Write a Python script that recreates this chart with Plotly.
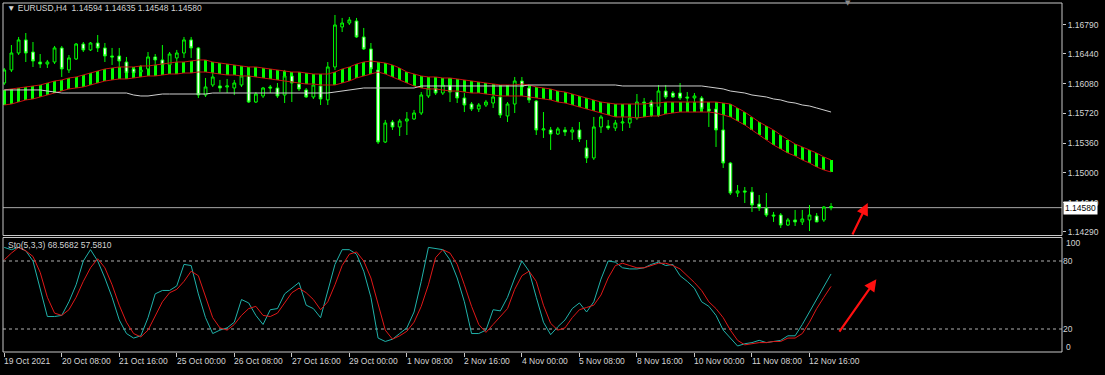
import plotly.graph_objects as go

# ---------------- data (EURUSD H4) ----------------
open_ = [1.16088, 1.16246, 1.16451, 1.16609, 1.16463, 1.16342, 1.16318, 1.16342, 1.16512, 1.16246,
 1.16379, 1.16560, 1.16488, 1.16572, 1.16512, 1.16415, 1.16415, 1.16342, 1.16258, 1.16221,
 1.16258, 1.16403, 1.16367, 1.16306, 1.16391, 1.16451, 1.16609, 1.16512, 1.15943, 1.16064,
 1.16052, 1.16040, 1.16028, 1.16064, 1.16173, 1.15858, 1.15931, 1.16040, 1.16028, 1.15943,
 1.16173, 1.16076, 1.16004, 1.15919, 1.16052, 1.15883, 1.16282, 1.16766, 1.16814, 1.16838,
 1.16645, 1.16500, 1.16246, 1.15374, 1.15616, 1.15556, 1.15628, 1.15653, 1.15725, 1.15931,
 1.16028, 1.15967, 1.16064, 1.15979, 1.15907, 1.15834, 1.15774, 1.15822, 1.15846, 1.15919,
 1.15689, 1.15834, 1.16112, 1.16028, 1.15870, 1.15520, 1.15520, 1.15471, 1.15520, 1.15495,
 1.15520, 1.15302, 1.15181, 1.15556, 1.15568, 1.15544, 1.15604, 1.15604, 1.15665, 1.15858,
 1.15858, 1.15798, 1.15991, 1.15967, 1.15967, 1.15919, 1.15907, 1.15907, 1.15774, 1.15774,
 1.15520, 1.15120, 1.14757, 1.14782, 1.14769, 1.14624, 1.14576, 1.14491, 1.14491, 1.14370,
 1.14431, 1.14407, 1.14431, 1.14479, 1.14431, 1.14594]

high_ = [1.16270, 1.16548, 1.16645, 1.16693, 1.16584, 1.16439, 1.16367, 1.16536, 1.16536, 1.16427,
 1.16572, 1.16584, 1.16584, 1.16669, 1.16572, 1.16512, 1.16512, 1.16403, 1.16282, 1.16306,
 1.16463, 1.16439, 1.16548, 1.16463, 1.16488, 1.16645, 1.16645, 1.16524, 1.16149, 1.16209,
 1.16125, 1.16137, 1.16125, 1.16209, 1.16185, 1.15979, 1.16040, 1.16064, 1.16088, 1.16246,
 1.16221, 1.16100, 1.16028, 1.16100, 1.16088, 1.16342, 1.16911, 1.16875, 1.16887, 1.16875,
 1.16754, 1.16572, 1.16270, 1.15641, 1.15641, 1.15653, 1.15737, 1.15762, 1.15979, 1.16064,
 1.16064, 1.16125, 1.16100, 1.16004, 1.15967, 1.15858, 1.15846, 1.15883, 1.15967, 1.15955,
 1.15858, 1.16161, 1.16161, 1.16064, 1.15883, 1.15737, 1.15556, 1.15556, 1.15556, 1.15556,
 1.15616, 1.15399, 1.15677, 1.15701, 1.15641, 1.15641, 1.15737, 1.15822, 1.15955, 1.15907,
 1.15883, 1.16064, 1.16064, 1.15991, 1.16088, 1.15979, 1.15967, 1.15931, 1.15846, 1.15846,
 1.15701, 1.15133, 1.14854, 1.14830, 1.14830, 1.14733, 1.14757, 1.14528, 1.14515, 1.14455,
 1.14552, 1.14552, 1.14612, 1.14515, 1.14600, 1.14635]

low_ = [1.16064, 1.16221, 1.16427, 1.16342, 1.16282, 1.16270, 1.16270, 1.16318, 1.16161, 1.16209,
 1.16367, 1.16463, 1.16475, 1.16463, 1.16342, 1.16306, 1.16282, 1.16161, 1.16173, 1.16185,
 1.16221, 1.16294, 1.16270, 1.16282, 1.16342, 1.16391, 1.16391, 1.15907, 1.15919, 1.16040,
 1.15979, 1.15967, 1.15943, 1.16040, 1.15846, 1.15846, 1.15907, 1.15967, 1.15907, 1.15846,
 1.15858, 1.15991, 1.15907, 1.15895, 1.15822, 1.15822, 1.16246, 1.16705, 1.16790, 1.16633,
 1.16488, 1.16246, 1.15350, 1.15362, 1.15520, 1.15447, 1.15459, 1.15641, 1.15701, 1.15907,
 1.15943, 1.15943, 1.15858, 1.15846, 1.15737, 1.15749, 1.15737, 1.15798, 1.15786, 1.15665,
 1.15616, 1.15725, 1.15979, 1.15846, 1.15459, 1.15423, 1.15278, 1.15459, 1.15447, 1.15399,
 1.15374, 1.15120, 1.15157, 1.15483, 1.15520, 1.15507, 1.15507, 1.15544, 1.15641, 1.15822,
 1.15677, 1.15677, 1.15895, 1.15907, 1.15883, 1.15858, 1.15858, 1.15737, 1.15556, 1.15314,
 1.15060, 1.14733, 1.14709, 1.14636, 1.14528, 1.14540, 1.14467, 1.14407, 1.14334, 1.14358,
 1.14358, 1.14370, 1.14297, 1.14407, 1.14407, 1.14548]

close_ = [1.16246, 1.16451, 1.16609, 1.16451, 1.16354, 1.16318, 1.16342, 1.16512, 1.16258, 1.16391,
 1.16560, 1.16488, 1.16572, 1.16512, 1.16415, 1.16403, 1.16354, 1.16209, 1.16209, 1.16246,
 1.16403, 1.16367, 1.16306, 1.16439, 1.16451, 1.16609, 1.16512, 1.15943, 1.16040, 1.16161,
 1.16028, 1.16052, 1.16088, 1.16173, 1.15858, 1.15955, 1.16028, 1.16028, 1.15931, 1.16173,
 1.16088, 1.16016, 1.15919, 1.16064, 1.15895, 1.16282, 1.16790, 1.16814, 1.16851, 1.16645,
 1.16500, 1.16258, 1.15374, 1.15604, 1.15556, 1.15628, 1.15653, 1.15725, 1.15943, 1.16028,
 1.15967, 1.16064, 1.15979, 1.15907, 1.15822, 1.15774, 1.15822, 1.15858, 1.15919, 1.15701,
 1.15834, 1.16112, 1.16040, 1.15883, 1.15520, 1.15532, 1.15471, 1.15532, 1.15495, 1.15520,
 1.15411, 1.15181, 1.15556, 1.15677, 1.15544, 1.15604, 1.15616, 1.15665, 1.15858, 1.15846,
 1.15798, 1.15991, 1.15919, 1.15919, 1.15907, 1.15907, 1.15931, 1.15774, 1.15749, 1.15520,
 1.15120, 1.14757, 1.14782, 1.14769, 1.14612, 1.14576, 1.14491, 1.14479, 1.14370, 1.14431,
 1.14407, 1.14443, 1.14491, 1.14407, 1.14588, 1.14580]

# moving-average channel (upper / lower) and slow moving average
ma_up = [1.16004, 1.16016, 1.16028, 1.16040, 1.16052, 1.16064, 1.16088, 1.16112, 1.16125, 1.16149,
 1.16161, 1.16185, 1.16209, 1.16233, 1.16258, 1.16270, 1.16282, 1.16282, 1.16282, 1.16294,
 1.16294, 1.16306, 1.16318, 1.16330, 1.16342, 1.16342, 1.16354, 1.16367, 1.16367, 1.16342,
 1.16330, 1.16318, 1.16306, 1.16294, 1.16282, 1.16282, 1.16270, 1.16258, 1.16246, 1.16233,
 1.16221, 1.16221, 1.16209, 1.16197, 1.16197, 1.16197, 1.16221, 1.16258, 1.16282, 1.16318,
 1.16342, 1.16354, 1.16342, 1.16330, 1.16306, 1.16270, 1.16221, 1.16197, 1.16173, 1.16161,
 1.16161, 1.16149, 1.16149, 1.16137, 1.16125, 1.16112, 1.16100, 1.16088, 1.16076, 1.16064,
 1.16064, 1.16064, 1.16076, 1.16064, 1.16040, 1.16028, 1.16016, 1.15991, 1.15979, 1.15955,
 1.15931, 1.15907, 1.15883, 1.15858, 1.15846, 1.15834, 1.15834, 1.15834, 1.15834, 1.15834,
 1.15846, 1.15846, 1.15858, 1.15858, 1.15858, 1.15858, 1.15858, 1.15858, 1.15858, 1.15858,
 1.15846, 1.15834, 1.15786, 1.15737, 1.15677, 1.15616, 1.15568, 1.15520, 1.15459, 1.15399,
 1.15350, 1.15314, 1.15278, 1.15241, 1.15193, 1.15157]

ma_lo = [1.15822, 1.15834, 1.15858, 1.15883, 1.15895, 1.15919, 1.15943, 1.15967, 1.15991, 1.16016,
 1.16028, 1.16040, 1.16064, 1.16088, 1.16112, 1.16125, 1.16137, 1.16137, 1.16149, 1.16161,
 1.16173, 1.16173, 1.16185, 1.16197, 1.16197, 1.16209, 1.16209, 1.16221, 1.16221, 1.16209,
 1.16197, 1.16185, 1.16185, 1.16173, 1.16173, 1.16161, 1.16149, 1.16137, 1.16125, 1.16112,
 1.16100, 1.16088, 1.16076, 1.16076, 1.16064, 1.16064, 1.16064, 1.16088, 1.16112, 1.16149,
 1.16173, 1.16197, 1.16221, 1.16197, 1.16161, 1.16125, 1.16088, 1.16052, 1.16028, 1.16016,
 1.16016, 1.16004, 1.15991, 1.15991, 1.15979, 1.15967, 1.15967, 1.15955, 1.15943, 1.15931,
 1.15931, 1.15931, 1.15931, 1.15919, 1.15907, 1.15895, 1.15883, 1.15858, 1.15846, 1.15822,
 1.15798, 1.15774, 1.15749, 1.15725, 1.15701, 1.15677, 1.15677, 1.15677, 1.15665, 1.15677,
 1.15689, 1.15689, 1.15713, 1.15725, 1.15737, 1.15737, 1.15737, 1.15737, 1.15737, 1.15725,
 1.15701, 1.15677, 1.15628, 1.15580, 1.15520, 1.15459, 1.15399, 1.15338, 1.15290, 1.15241,
 1.15205, 1.15157, 1.15120, 1.15072, 1.15036, 1.15011]

ma_slow = [1.16004, 1.16004, 1.16004, 1.16004, 1.16004, 1.16004, 1.15991, 1.15979, 1.15967, 1.15967,
 1.15967, 1.15967, 1.15967, 1.15967, 1.15967, 1.15967, 1.15967, 1.15967, 1.15943, 1.15931,
 1.15931, 1.15943, 1.15955, 1.15955, 1.15955, 1.15955, 1.15955, 1.15955, 1.15955, 1.15967,
 1.15967, 1.15967, 1.15967, 1.15967, 1.15967, 1.15967, 1.15967, 1.15967, 1.15967, 1.15967,
 1.15967, 1.15967, 1.15967, 1.15967, 1.15967, 1.15967, 1.15979, 1.15991, 1.16004, 1.16016,
 1.16028, 1.16028, 1.16028, 1.16028, 1.16028, 1.16028, 1.16028, 1.16028, 1.16052, 1.16052,
 1.16052, 1.16052, 1.16052, 1.16052, 1.16052, 1.16052, 1.16052, 1.16052, 1.16052, 1.16052,
 1.16052, 1.16052, 1.16052, 1.16064, 1.16064, 1.16064, 1.16064, 1.16064, 1.16064, 1.16064,
 1.16064, 1.16064, 1.16064, 1.16064, 1.16064, 1.16064, 1.16052, 1.16052, 1.16052, 1.16052,
 1.16052, 1.16052, 1.16052, 1.16052, 1.16052, 1.16052, 1.16052, 1.16052, 1.16040, 1.16028,
 1.16016, 1.15991, 1.15979, 1.15967, 1.15943, 1.15931, 1.15919, 1.15895, 1.15883, 1.15858,
 1.15846, 1.15822, 1.15810, 1.15786, 1.15762, 1.15737]

# Stochastic(5,3,3)
stoch_k = [92, 90, 92, 89, 80, 56, 31, 31, 32, 44,
 59, 80, 90, 80, 65, 48, 28, 16, 12, 14,
 30, 51, 54, 54, 58, 77, 76, 51, 30, 16,
 19, 21, 26, 46, 43, 32, 24, 37, 38, 51,
 56, 61, 41, 38, 30, 54, 77, 90, 90, 86,
 71, 48, 12, 9, 11, 16, 21, 35, 62, 92,
 91, 90, 81, 65, 44, 16, 16, 19, 37, 36,
 48, 65, 80, 71, 48, 26, 15, 22, 28, 38,
 43, 35, 44, 64, 80, 79, 74, 73, 73, 74,
 77, 79, 76, 77, 67, 62, 56, 44, 40, 32,
 19, 12, 5, 7, 8, 10, 8, 9, 10, 14,
 14, 24, 35, 46, 58, 68.5682]

stoch_d = [81, 87, 92, 89, 84, 70, 48, 34, 32, 37,
 48, 62, 74, 82, 74, 59, 41, 26, 16, 13,
 19, 32, 44, 52, 55, 62, 71, 67, 48, 30,
 21, 19, 24, 32, 38, 40, 32, 31, 34, 43,
 52, 56, 52, 46, 37, 44, 59, 76, 86, 88,
 80, 65, 41, 19, 11, 14, 18, 26, 40, 59,
 83, 90, 87, 77, 59, 40, 24, 17, 24, 31,
 38, 55, 67, 71, 62, 41, 25, 19, 21, 30,
 37, 39, 41, 50, 65, 76, 78, 76, 74, 74,
 76, 78, 78, 76, 73, 67, 61, 54, 44, 38,
 30, 19, 10, 6, 7, 8, 8, 9, 9, 12,
 12, 16, 26, 38, 48, 57.5810]

time_labels = ["19 Oct 2021", "20 Oct 08:00", "21 Oct 16:00", "25 Oct 00:00", "26 Oct 08:00",
               "27 Oct 16:00", "29 Oct 00:00", "1 Nov 08:00", "2 Nov 16:00", "4 Nov 00:00",
               "5 Nov 08:00", "8 Nov 16:00", "10 Nov 00:00", "11 Nov 08:00", "12 Nov 16:00"]
label_step = 8  # one label every 8 H4 bars
price_ticks = [1.16790, 1.16440, 1.16080, 1.15720, 1.15360, 1.15000, 1.14640, 1.14290]
stoch_ticks = [80, 20]
bid_price = 1.14580
title_text = "▼ EURUSD,H4  1.14594 1.14635 1.14548 1.14580"
stoch_text = "Sto(5,3,3) 68.5682 57.5810"

# ---------------- layout geometry ----------------
W, H = 1105, 375
ML, MR, MT, MB = 3, 43, 3, 23
PW, PH = W - ML - MR, H - MT - MB
MAIN_DOM = [0.3338, 1.0]
STO_DOM = [0.0, 0.3281]
X_RANGE = [-0.17, 147.12]
Y_RANGE = [1.14243, 1.17056]
S_RANGE = [-0.29, 100.74]

def pxx(px):
    return (px - ML) / PW

def pxy(py):
    return (H - MB - py) / PH

FONT = "Liberation Sans, Arial, sans-serif"
TXT = "#d4d4d4"
LIME = "#00ff00"

n = len(close_)
idx = list(range(n))

fig = go.Figure()

# channel histogram between the two channel MAs
fig.add_trace(go.Bar(
    x=idx, y=[u - l for u, l in zip(ma_up, ma_lo)], base=ma_lo,
    width=0.42, marker=dict(color=LIME, line=dict(width=0)),
    xaxis="x", yaxis="y", hoverinfo="skip"))

fig.add_trace(go.Candlestick(
    x=idx, open=open_, high=high_, low=low_, close=close_,
    increasing=dict(line=dict(color=LIME, width=1), fillcolor="#000000"),
    decreasing=dict(line=dict(color=LIME, width=1), fillcolor="#f4fff4"),
    whiskerwidth=0, xaxis="x", yaxis="y", hoverinfo="skip"))

for series in (ma_up, ma_lo):
    fig.add_trace(go.Scatter(x=idx, y=series, mode="lines",
                             line=dict(color="#c81010", width=1),
                             xaxis="x", yaxis="y", hoverinfo="skip"))

fig.add_trace(go.Scatter(x=idx, y=ma_slow, mode="lines",
                         line=dict(color="#cfcfcf", width=1),
                         xaxis="x", yaxis="y", hoverinfo="skip"))

fig.add_trace(go.Scatter(x=idx, y=stoch_k, mode="lines",
                         line=dict(color="#20b2aa", width=1),
                         xaxis="x", yaxis="y2", hoverinfo="skip"))
fig.add_trace(go.Scatter(x=idx, y=stoch_d, mode="lines",
                         line=dict(color="#e01818", width=1),
                         xaxis="x", yaxis="y2", hoverinfo="skip"))

shapes = [
    dict(type="rect", xref="paper", yref="paper", x0=0, x1=1, y0=MAIN_DOM[0], y1=MAIN_DOM[1],
         line=dict(color="#c8c8c8", width=1), fillcolor="rgba(0,0,0,0)", layer="above"),
    dict(type="rect", xref="paper", yref="paper", x0=0, x1=1, y0=STO_DOM[0], y1=STO_DOM[1],
         line=dict(color="#c8c8c8", width=1), fillcolor="rgba(0,0,0,0)", layer="above"),
    dict(type="line", xref="paper", yref="y", x0=0, x1=1, y0=bid_price, y1=bid_price,
         line=dict(color="#a8a8a8", width=1), layer="below"),
]
for lv in stoch_ticks:
    shapes.append(dict(type="line", xref="paper", yref="y2", x0=0, x1=1, y0=lv, y1=lv,
                       line=dict(color="#b0b0b0", width=1, dash="3px,3px"), layer="below"))

annotations = [
    dict(text=title_text, xref="paper", yref="paper", x=pxx(5), y=pxy(8),
         xanchor="left", yanchor="middle", showarrow=False,
         font=dict(family=FONT, size=8.5, color=TXT)),
    dict(text=stoch_text, xref="paper", yref="paper", x=pxx(6), y=pxy(245),
         xanchor="left", yanchor="middle", showarrow=False,
         font=dict(family=FONT, size=8.5, color=TXT)),
    dict(text=f"{bid_price:.5f}", xref="paper", yref="y", x=1, y=bid_price,
         xanchor="left", yanchor="middle", xshift=1, showarrow=False,
         bgcolor="#ffffff", borderpad=1, font=dict(family=FONT, size=8.5, color="#000000")),
    dict(text="100", xref="paper", yref="y2", x=1, y=100, xanchor="left", yanchor="middle",
         xshift=2, yshift=-5, showarrow=False, font=dict(family=FONT, size=8.5, color=TXT)),
    dict(text="0", xref="paper", yref="y2", x=1, y=0, xanchor="left", yanchor="middle",
         xshift=2, yshift=5, showarrow=False, font=dict(family=FONT, size=8.5, color=TXT)),
    dict(text="▼", xref="paper", yref="paper", x=pxx(848), y=pxy(3), xanchor="center",
         yanchor="middle", showarrow=False, font=dict(family="DejaVu Sans", size=7, color="#8a8a8a")),
]
for k, lab in enumerate(time_labels):
    annotations.append(dict(text=lab, xref="x", yref="paper", x=k * label_step, y=0,
                            xanchor="left", yanchor="top", yshift=-2, xshift=-2, showarrow=False,
                            font=dict(family=FONT, size=8.5, color=TXT)))

# hand-drawn red arrows (head position in data units, tail offset in pixels)
arrows = [
    dict(x=120.1, y=1.14636, yref="y", ax=-16, ay=33),
    dict(x=121.3, y=64.0, yref="y2", ax=-38, ay=54),
]
for a in arrows:
    annotations.append(dict(text="", xref="x", yref=a["yref"], x=a["x"], y=a["y"],
                            ax=a["ax"], ay=a["ay"], showarrow=True, arrowhead=2,
                            arrowsize=1.1, arrowwidth=2.2, arrowcolor="#ff1010", standoff=0))

fig.update_layout(
    width=W, height=H, margin=dict(l=ML, r=MR, t=MT, b=MB),
    paper_bgcolor="#000000", plot_bgcolor="#000000", showlegend=False,
    boxgap=0.45, bargap=0, barmode="overlay",
    xaxis=dict(domain=[0, 1], anchor="y2", range=X_RANGE, showgrid=False, zeroline=False,
               showline=False, ticks="outside", tickvals=[k * label_step for k in range(len(time_labels))],
               ticklen=4, tickcolor="#c8c8c8", showticklabels=False,
               rangeslider=dict(visible=False), fixedrange=True),
    yaxis=dict(domain=MAIN_DOM, anchor="x", side="right", range=Y_RANGE,
               tickvals=price_ticks, ticktext=[f"{v:.5f}" for v in price_ticks],
               ticks="outside", ticklen=3, tickcolor="#c8c8c8",
               tickfont=dict(family=FONT, size=8.5, color=TXT),
               showgrid=False, zeroline=False, showline=False),
    yaxis2=dict(domain=STO_DOM, anchor="x", side="right", range=S_RANGE,
                tickvals=stoch_ticks, ticktext=[str(v) for v in stoch_ticks],
                ticks="", tickfont=dict(family=FONT, size=8.5, color=TXT),
                showgrid=False, zeroline=False, showline=False),
    shapes=shapes, annotations=annotations,
)

fig.write_html("out.html")
